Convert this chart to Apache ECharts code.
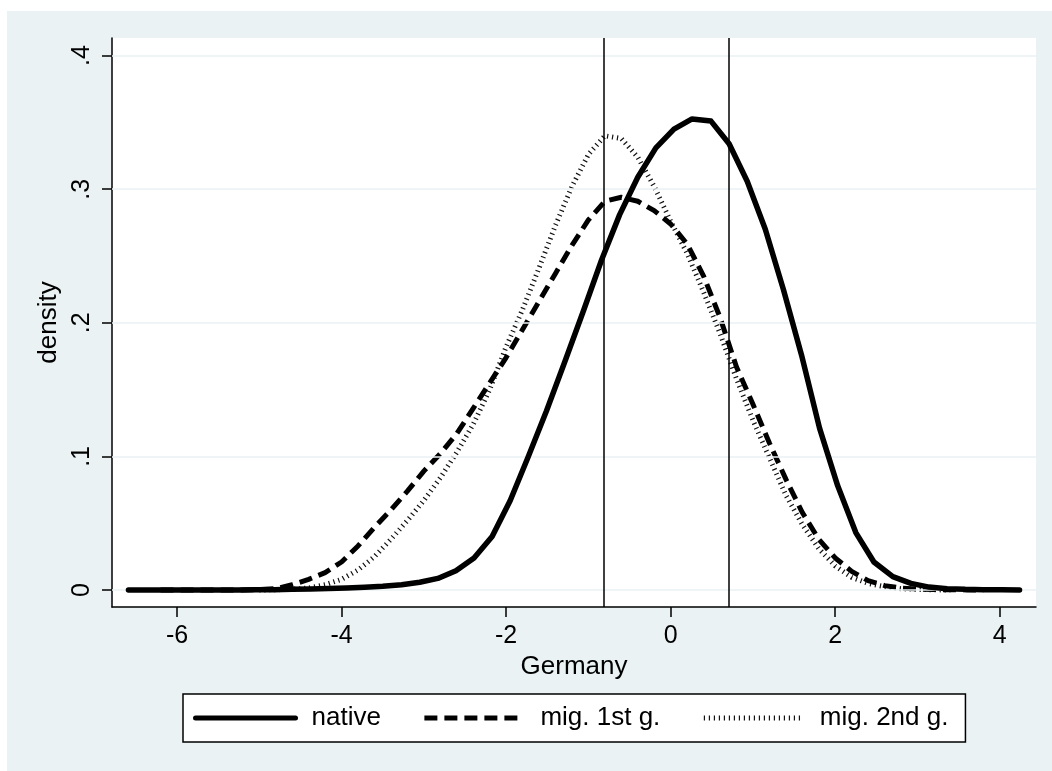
<!DOCTYPE html>
<html>
<head>
<meta charset="utf-8">
<script src="https://cdn.jsdelivr.net/npm/echarts@6/dist/echarts.min.js"></script>
<style>
  html, body { margin: 0; padding: 0; background: #ffffff; }
  #bg { position: absolute; left: 7px; top: 11px; width: 1045px; height: 760px; background: #eaf2f3; }
  #chart { position: absolute; left: 0; top: 0; width: 1052px; height: 771px; }
</style>
</head>
<body>
<div id="bg"></div>
<div id="chart"></div>
<script>
// ---- data ----
const seriesNames = ['native', 'mig. 1st g.', 'mig. 2nd g.'];

const nativeX = [-6.59, -6.37, -6.15, -5.93, -5.71, -5.49, -5.26, -5.04, -4.82, -4.60,
  -4.38, -4.16, -3.94, -3.72, -3.50, -3.27, -3.05, -2.83, -2.61, -2.39,
  -2.17, -1.95, -1.73, -1.51, -1.28, -1.06, -0.84, -0.62, -0.40, -0.18,
  0.04, 0.26, 0.49, 0.71, 0.93, 1.15, 1.37, 1.59, 1.81, 2.03,
  2.25, 2.47, 2.70, 2.92, 3.14, 3.36, 3.58, 3.80, 4.02, 4.24];
const nativeY = [0, 0, 0, 0, 0, 0.0001, 0.0001, 0.0002, 0.0003, 0.0005,
  0.0008, 0.0011, 0.0015, 0.0020, 0.0028, 0.0040, 0.0058, 0.0087, 0.0145, 0.024,
  0.040, 0.067, 0.100, 0.134, 0.172, 0.209, 0.247, 0.281, 0.309, 0.331,
  0.345, 0.3526, 0.351, 0.334, 0.306, 0.270, 0.225, 0.176, 0.121, 0.078,
  0.043, 0.021, 0.010, 0.005, 0.0022, 0.0010, 0.0005, 0.0003, 0.0002, 0.0001];

const mig1X = [-6.2, -6.0, -5.8, -5.6, -5.4, -5.2, -5.0, -4.8, -4.6, -4.4,
  -4.2, -4.0, -3.8, -3.6, -3.4, -3.2, -3.0, -2.8, -2.6, -2.4,
  -2.2, -2.0, -1.8, -1.6, -1.4, -1.2, -1.0, -0.8, -0.6, -0.4,
  -0.2, 0.0, 0.2, 0.4, 0.6, 0.8, 1.0, 1.2, 1.4, 1.6,
  1.8, 2.0, 2.2, 2.4, 2.6, 2.8, 3.0, 3.2, 3.4, 3.6, 3.8];
const mig1Y = [0, 0, 0, 0, 0, 0.0001, 0.0003, 0.001, 0.004, 0.008,
  0.013, 0.021, 0.033, 0.047, 0.060, 0.074, 0.089, 0.102, 0.117, 0.136,
  0.155, 0.174, 0.195, 0.216, 0.237, 0.258, 0.277, 0.291, 0.294, 0.291,
  0.284, 0.274, 0.259, 0.235, 0.204, 0.167, 0.139, 0.110, 0.083, 0.058,
  0.038, 0.024, 0.014, 0.007, 0.0033, 0.0015, 0.0008, 0.0004, 0.0002, 0.0001, 0];

const mig2X = [-5.0, -4.8, -4.6, -4.4, -4.2, -4.0, -3.8, -3.6, -3.4, -3.2,
  -3.0, -2.8, -2.6, -2.4, -2.2, -2.0, -1.8, -1.6, -1.4, -1.2,
  -1.0, -0.8, -0.6, -0.4, -0.2, 0.0, 0.2, 0.4, 0.6, 0.8,
  1.0, 1.2, 1.4, 1.6, 1.8, 2.0, 2.2, 2.4, 2.6, 2.8, 3.0, 3.2, 3.4];
const mig2Y = [0, 0.0002, 0.0006, 0.0015, 0.004, 0.008, 0.015, 0.025, 0.038, 0.052,
  0.067, 0.084, 0.103, 0.124, 0.150, 0.182, 0.210, 0.241, 0.273, 0.302,
  0.326, 0.340, 0.338, 0.324, 0.302, 0.276, 0.252, 0.223, 0.192, 0.158,
  0.127, 0.099, 0.071, 0.049, 0.031, 0.018, 0.0095, 0.005, 0.0025, 0.001, 0.0005, 0.0002, 0];

const xTicks = [-6, -4, -2, 0, 2, 4];
const yTicks = [0, 0.1, 0.2, 0.3, 0.4];
const refLinesX = [-0.807, 0.712];
const xTitle = 'Germany';
const yTitle = 'density';

// ---- chart ----
const FONT = '"Liberation Sans", Arial, Helvetica, sans-serif';
const pairs = (xs, ys) => xs.map((x, i) => [x, ys[i]]);

const chart = echarts.init(document.getElementById('chart'), null, { renderer: 'canvas' });

chart.setOption({
  animation: false,
  backgroundColor: 'transparent',
  textStyle: { fontFamily: FONT },
  grid: {
    show: true, backgroundColor: '#ffffff', borderWidth: 0,
    left: 112, right: 16, top: 38, bottom: 164
  },
  xAxis: {
    type: 'value', min: -6.79, max: 4.44,
    name: xTitle, nameLocation: 'middle', nameGap: 43,
    nameTextStyle: { fontSize: 26, color: '#000', fontFamily: FONT },
    axisLine: { show: true, onZero: false, lineStyle: { color: '#000', width: 1.5 } },
    axisTick: { show: true, customValues: xTicks, length: 10, lineStyle: { color: '#000', width: 1.5 } },
    axisLabel: { customValues: xTicks, margin: 17, fontSize: 25, color: '#000', fontFamily: FONT },
    splitLine: { show: false }
  },
  yAxis: {
    type: 'value', min: -0.0127, max: 0.4132,
    name: yTitle, nameLocation: 'middle', nameGap: 46,
    nameTextStyle: { fontSize: 26, color: '#000', fontFamily: FONT },
    axisLine: { show: true, onZero: false, lineStyle: { color: '#000', width: 1.5 } },
    axisTick: { show: true, customValues: yTicks, length: 10, lineStyle: { color: '#000', width: 1.5 } },
    axisLabel: {
      customValues: yTicks, rotate: 90, margin: 17, fontSize: 25, color: '#000', fontFamily: FONT,
      formatter: v => (v === 0 ? '0' : String(+v.toFixed(1)).replace(/^0/, ''))
    },
    splitLine: { show: false }
  },
  legend: {
    left: 183, top: 694,
    orient: 'horizontal',
    padding: [11, 17, 11, 10],
    itemGap: 41, itemWidth: 100, itemHeight: 14,
    borderColor: '#000', borderWidth: 1.5, backgroundColor: '#ffffff',
    itemStyle: { opacity: 0 },
    lineStyle: { width: 5 },
    textStyle: { fontSize: 26, color: '#000', fontFamily: FONT, padding: [0, 0, 0, 11] },
    data: seriesNames
  },
  series: [
    {
      name: '_grid', type: 'line', data: [], z: 1, silent: true,
      markLine: {
        silent: true, symbol: ['none', 'none'], label: { show: false },
        lineStyle: { color: '#eaf2f3', width: 1.5, type: 'solid' },
        data: yTicks.map(v => ({ yAxis: v }))
      }
    },
    {
      name: '_ref', type: 'line', data: [], z: 2, silent: true,
      markLine: {
        silent: true, symbol: ['none', 'none'], label: { show: false },
        lineStyle: { color: '#000', width: 1.5, type: 'solid' },
        data: refLinesX.map(v => ({ xAxis: v }))
      }
    },
    {
      name: seriesNames[2], type: 'line', z: 3, symbol: 'none', smooth: false,
      data: pairs(mig2X, mig2Y),
      lineStyle: { color: '#111', width: 5, type: [1.2, 3.8], cap: 'butt' },
      itemStyle: { color: '#111' }
    },
    {
      name: seriesNames[1], type: 'line', z: 4, symbol: 'none', smooth: false,
      data: pairs(mig1X, mig1Y),
      lineStyle: { color: '#000', width: 5, type: [13, 7], cap: 'butt' },
      itemStyle: { color: '#000' }
    },
    {
      name: seriesNames[0], type: 'line', z: 5, symbol: 'none', smooth: false,
      data: pairs(nativeX, nativeY),
      lineStyle: { color: '#000', width: 5.5, type: 'solid', cap: 'round', join: 'round' },
      itemStyle: { color: '#000' }
    }
  ]
});
</script>
</body>
</html>
